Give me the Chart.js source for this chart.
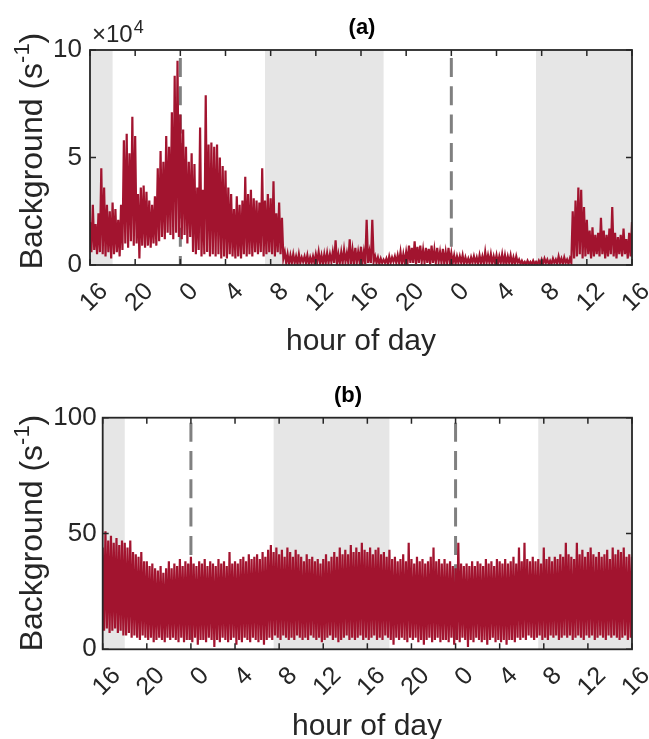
<!DOCTYPE html>
<html>
<head>
<meta charset="utf-8">
<script src="https://cdn.jsdelivr.net/npm/chart.js@4.4.1/dist/chart.umd.min.js"></script>
<style>
  html, body { margin: 0; padding: 0; background: #fff; }
  #wrap { position: relative; width: 649px; height: 739px; }
  canvas { position: absolute; left: 0; }
</style>
</head>
<body>
<div id="wrap">
  <canvas id="chartA" width="649" height="370" style="top:0"></canvas>
  <canvas id="chartB" width="649" height="369" style="top:370px"></canvas>
</div>
<script>
// --- data: hours since start of day 1, binned every 15 min ---
const hourStart = 16;
const binHours = 0.25;
const xTickLabels = ['16', '20', '0', '4', '8', '12', '16', '20', '0', '4', '8', '12', '16'];
const yTickLabelsA = ['0', '5', '10'];      // x 10^4
const yTickLabelsB = ['0', '50', '100'];
const daylight = [[16, 18], [31.5, 42], [55.5, 64]];
const midnights = [24, 48];

// (a) background, units of 10^4 s^-1, max / min per bin
const highA = [
  2.0, 2.8, 1.9, 2.4,  4.5, 3.6, 2.8, 2.5,  2.9, 2.6, 2.1, 2.8,  5.8, 6.1, 5.2, 6.9,
  6.0, 3.3, 3.6, 3.7,  3.4, 3.0, 2.8, 3.2,  4.5, 5.3, 4.8, 6.0,  5.5, 7.1, 8.8, 9.5,
  7.0, 6.3, 5.5, 4.8,  5.2, 4.7, 3.6, 6.4,  3.5, 7.9, 5.6, 5.7,  5.5, 5.6, 5.0, 4.6,
  4.4, 3.6, 3.3, 2.6,  3.2, 2.8, 3.0, 4.1,  3.3, 3.5, 3.1, 3.0,  2.9, 4.5, 3.0, 3.3,
  3.1, 3.9, 2.4, 2.9,  2.2, 0.6, 0.5, 0.45, 0.5, 0.4, 0.5, 0.35, 0.4, 0.45, 0.35, 0.4,
  0.5, 0.6, 0.45, 0.5, 0.55, 0.5, 0.6, 1.15, 0.5, 0.6, 0.7, 0.55, 1.2, 0.7, 0.8, 0.6,
  0.85, 0.6, 2.1, 0.6, 2.1, 0.4, 0.35, 0.3, 0.25, 0.3, 0.4, 0.35, 0.4, 0.45, 0.6, 0.5,
  0.6, 0.9, 0.8, 1.1, 0.85, 0.9, 0.7, 0.8, 0.75, 0.9, 0.7, 0.8, 0.6, 0.75, 0.6, 0.8,
  0.55, 0.45, 0.4, 0.4, 0.45, 0.35, 0.3, 0.35, 0.4, 0.35, 0.45, 0.4, 0.6, 0.45, 0.5, 0.4,
  0.45, 0.4, 0.5, 0.45, 0.4, 0.45, 0.35, 0.4, 0.25, 0.2, 0.15, 0.2, 0.15, 0.2, 0.15, 0.2,
  0.25, 0.3, 0.25, 0.2, 0.3, 0.25, 0.4, 0.3, 0.35, 0.25, 0.3, 2.5, 3.0, 3.6, 3.5, 2.7,
  2.1, 1.6, 1.75, 1.4, 1.5, 2.2, 1.6, 1.4, 1.7, 2.7, 1.5, 1.3, 1.4, 1.7, 1.2, 1.5,
  2.0
];
const lowA = [
  0.6, 0.7, 0.5, 0.6,  0.5, 0.4, 0.6, 0.3,  0.5, 0.6, 0.4, 0.7,  1.0, 0.8, 1.1, 0.9,
  1.0, 0.3, 0.9, 0.8,  0.9, 0.8, 1.0, 0.9,  1.1, 1.3, 1.2, 1.5,  1.4, 1.2, 1.5, 1.3,
  1.2, 1.4, 1.0, 1.3,  0.6, 0.5, 0.7, 0.4,  0.5, 0.6, 0.4, 0.5,  0.4, 0.5, 0.3, 0.4,
  0.3, 0.5, 0.4, 0.3,  0.4, 0.3, 0.5, 0.4,  0.5, 0.4, 0.6, 0.5,  0.6, 0.4, 0.5, 0.6,
  0.5, 0.4, 0.6, 0.5,  0.3, 0.1, 0.05, 0.1, 0.1, 0.05, 0.1, 0.15, 0.1, 0.05, 0.1, 0.1,
  0.15, 0.1, 0.05, 0.1, 0.1, 0.15, 0.1, 0.05, 0.1, 0.1, 0.15, 0.1, 0.05, 0.1, 0.1, 0.15,
  0.1, 0.05, 0.1, 0.1, 0.15, 0.1, 0.05, 0.1, 0.1, 0.05, 0.1, 0.15, 0.1, 0.1, 0.05, 0.1,
  0.15, 0.1, 0.1, 0.05, 0.1, 0.15, 0.1, 0.1, 0.05, 0.1, 0.1, 0.15, 0.1, 0.05, 0.1, 0.1,
  0.1, 0.05, 0.1, 0.1, 0.05, 0.1, 0.05, 0.1, 0.1, 0.05, 0.1, 0.05, 0.1, 0.1, 0.05, 0.1,
  0.05, 0.1, 0.05, 0.05, 0.1, 0.05, 0.05, 0.1, 0.05, 0.05, 0.03, 0.05, 0.03, 0.05, 0.03, 0.05,
  0.05, 0.1, 0.05, 0.05, 0.1, 0.05, 0.1, 0.05, 0.1, 0.05, 0.1, 0.3, 0.4, 0.5, 0.3, 0.4,
  0.5, 0.3, 0.4, 0.5, 0.4, 0.5, 0.3, 0.4, 0.5, 0.4, 0.3, 0.5, 0.4, 0.5, 0.3, 0.4,
  0.5
];

// (b) background, s^-1, max / min per bin
const highB = [
  44, 51, 47, 49,  46, 48, 45, 47,  46, 44, 47, 42,  41, 40, 42, 38,
  38, 36, 37, 35,  34, 36, 33, 35,  38, 35, 37, 36,  39, 36, 38, 37,
  40, 37, 36, 38,  37, 39, 36, 38,  37, 36, 39, 37,  38, 36, 42, 37,
  38, 37, 39, 40,  38, 41, 39, 40,  41, 39, 42, 40,  43, 45, 42, 44,
  41, 43, 40, 44,  42, 40, 43, 41,  40, 38, 41, 39,  40, 38, 39, 37,
  39, 41, 38, 40,  42, 40, 44, 41,  43, 41, 45, 42,  44, 42, 46, 43,
  42, 44, 41, 43,  44, 41, 42, 40,  43, 39, 40, 38,  39, 41, 38, 46,
  39, 37, 40, 38,  39, 37, 38, 40,  44, 38, 39, 37,  39, 37, 38, 36,
  35, 46, 37, 36,  37, 36, 38, 36,  38, 37, 36, 39,  37, 38, 36, 39,
  38, 37, 39, 37,  38, 40, 37, 44,  38, 46, 39, 38,  40, 38, 39, 37,
  44, 39, 40, 38,  40, 39, 41, 40,  46, 41, 40, 39,  46, 41, 43, 40,
  42, 44, 41, 40,  42, 40, 41, 43,  39, 44, 41, 43,  42, 44, 40, 41,
  40
];
const lowB = [
  8, 9, 7, 8,  9, 7, 8, 6,  6, 7, 5, 6,  5, 4, 6, 5,
  4, 5, 3, 4,  5, 4, 3, 5,  4, 5, 4, 3,  5, 3, 4, 4,
  3, 5, 2, 4,  4, 3, 5, 4,  1, 4, 3, 5,  4, 3, 4, 5,
  2, 4, 3, 5,  4, 3, 5, 4,  3, 4, 2, 4,  5, 4, 6, 5,
  4, 6, 5, 4,  5, 4, 6, 5,  4, 5, 4, 6,  5, 4, 5, 3,
  4, 5, 6, 4,  5, 3, 4, 5,  6, 4, 5, 4,  5, 6, 4, 5,
  4, 5, 6, 4,  5, 4, 6, 5,  4, 2, 5, 4,  5, 4, 3, 5,
  4, 5, 3, 4,  2, 4, 5, 3,  4, 5, 3, 4,  4, 3, 5, 2,
  4, 3, 5, 4,  1, 4, 3, 5,  4, 3, 4, 2,  4, 5, 3, 4,
  3, 4, 2, 4,  4, 3, 5, 4,  5, 4, 6, 5,  4, 5, 6, 4,
  5, 4, 6, 5,  6, 4, 5, 6,  5, 6, 4, 5,  6, 5, 4, 6,
  5, 6, 4, 5,  6, 5, 4, 6,  5, 6, 5, 4,  5, 6, 4, 5,
  6
];

const RED = '#A2142F';
const INK = '#262626';
const FONT = '"Liberation Sans", Arial, Helvetica, sans-serif';

// each bin drawn as a up/down stroke: max then min
function strokes(high, low) {
  const pts = [];
  high.forEach((h, i) => {
    const t = hourStart + i * binHours;
    pts.push({ x: t, y: h });
    if (i < low.length && i < high.length - 1) pts.push({ x: t + binHours / 2, y: low[i] });
  });
  return pts;
}

function decorPlugin(cfg) {
  return {
    id: 'decor',
    beforeDatasetsDraw(chart) {
      const { ctx, chartArea: a, scales: { x } } = chart;
      ctx.save();
      ctx.fillStyle = '#E6E6E6';
      daylight.forEach(([s, e]) => {
        const x0 = x.getPixelForValue(s), x1 = x.getPixelForValue(e);
        ctx.fillRect(x0, a.top, x1 - x0, a.bottom - a.top);
      });
      ctx.strokeStyle = '#808080';
      ctx.lineWidth = 3;
      ctx.setLineDash([19, 9.3]);
      ctx.lineDashOffset = cfg.dashOffset;
      midnights.forEach(m => {
        const px = x.getPixelForValue(m);
        ctx.beginPath();
        ctx.moveTo(px, a.top);
        ctx.lineTo(px, a.bottom);
        ctx.stroke();
      });
      ctx.restore();
    },
    afterDraw(chart) {
      const { ctx, chartArea: a, scales: { x, y } } = chart;
      ctx.save();
      // box and inward ticks
      ctx.strokeStyle = INK;
      ctx.lineWidth = 1.8;
      ctx.strokeRect(a.left, a.top, a.right - a.left, a.bottom - a.top);
      ctx.lineWidth = 1.5;
      ctx.beginPath();
      x.ticks.forEach(t => {
        const px = x.getPixelForValue(t.value);
        ctx.moveTo(px, a.bottom); ctx.lineTo(px, a.bottom - 6);
        ctx.moveTo(px, a.top); ctx.lineTo(px, a.top + 6);
      });
      y.ticks.forEach(t => {
        const py = y.getPixelForValue(t.value);
        ctx.moveTo(a.left, py); ctx.lineTo(a.left + 6, py);
        ctx.moveTo(a.right, py); ctx.lineTo(a.right - 6, py);
      });
      ctx.stroke();

      // panel title
      ctx.font = 'bold 22px ' + FONT;
      ctx.fillStyle = '#000';
      ctx.textAlign = 'center';
      ctx.textBaseline = 'alphabetic';
      ctx.fillText(cfg.title, cfg.titleX, cfg.titleY);

      // x axis title
      ctx.fillStyle = INK;
      ctx.font = '30px ' + FONT;
      ctx.fillText('hour of day', cfg.xlabX, cfg.xlabY);

      // y axis title with superscript
      ctx.save();
      ctx.translate(42, cfg.ylabY);
      ctx.rotate(-Math.PI / 2);
      const big = '32px ' + FONT, small = '22px ' + FONT;
      ctx.font = big;
      const w1 = ctx.measureText('Background (s').width;
      const w3 = ctx.measureText(')').width;
      ctx.font = small;
      const w2 = ctx.measureText('-1').width;
      let cx = -(w1 + w2 + w3) / 2;
      ctx.textAlign = 'left';
      ctx.font = big;
      ctx.fillText('Background (s', cx, 0);
      cx += w1;
      ctx.font = small;
      ctx.fillText('-1', cx, -13);
      cx += w2;
      ctx.font = big;
      ctx.fillText(')', cx, 0);
      ctx.restore();

      // exponent label
      if (cfg.exponent) {
        ctx.textAlign = 'left';
        ctx.font = '24px ' + FONT;
        ctx.fillText('\u00d710', 92, 42);
        const ew = ctx.measureText('\u00d710').width;
        ctx.font = '18px ' + FONT;
        ctx.fillText('4', 92 + ew + 1, 33);
      }
      ctx.restore();
    }
  };
}

function makeChart(id, high, low, yMax, yStep, yLabels, lay) {
  const xLabelAt = v => xTickLabels[Math.round((v - hourStart) / 4)];
  const yLabelAt = v => yLabels[Math.round(v / yStep)];
  return new Chart(document.getElementById(id), {
    type: 'line',
    data: {
      datasets: [{
        data: strokes(high, low),
        borderColor: RED,
        borderWidth: 2.2,
        pointRadius: 0,
        tension: 0,
        fill: false
      }]
    },
    options: {
      responsive: false,
      animation: false,
      events: [],
      layout: { padding: { top: lay.top, right: 17, left: 0, bottom: 0 } },
      plugins: { legend: { display: false }, tooltip: { enabled: false } },
      scales: {
        x: {
          type: 'linear',
          min: 16, max: 64,
          grid: { display: false, drawTicks: false },
          border: { display: false },
          ticks: {
            stepSize: 4,
            autoSkip: false,
            minRotation: 45, maxRotation: 45,
            padding: 12,
            labelOffset: 14,
            color: INK,
            font: { family: FONT, size: 25 },
            callback: xLabelAt
          },
          afterFit: s => { s.height = lay.xh; s.paddingLeft = 0; s.paddingRight = 0; }
        },
        y: {
          min: 0, max: yMax,
          grid: { display: false, drawTicks: false },
          border: { display: false },
          ticks: {
            stepSize: yStep,
            padding: lay.ypad,
            color: INK,
            font: { family: FONT, size: 26 },
            callback: yLabelAt
          },
          afterFit: s => { s.width = lay.yw; s.paddingTop = 0; s.paddingBottom = 0; }
        }
      }
    },
    plugins: [decorPlugin(lay)]
  });
}

makeChart('chartA', highA, lowA, 10, 5, yTickLabelsA, {
  top: 50, xh: 105, yw: 90, ypad: 8, dashOffset: -8,
  title: '(a)', titleX: 362, titleY: 34, xlabX: 361, xlabY: 350, ylabY: 151, exponent: true
});
makeChart('chartB', highB, lowB, 100, 50, yTickLabelsB, {
  top: 47.7, xh: 89.7, yw: 102.7, ypad: 6, dashOffset: -5,
  title: '(b)', titleX: 348, titleY: 32, xlabX: 367, xlabY: 365, ylabY: 163, exponent: false
});
</script>
</body>
</html>
